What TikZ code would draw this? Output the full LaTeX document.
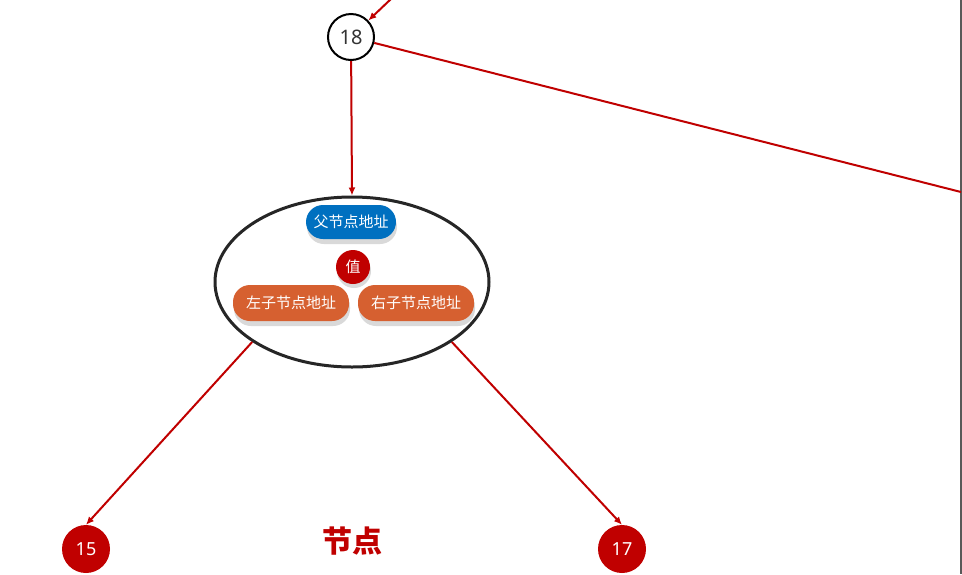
\documentclass[tikz,border=0pt]{standalone}
\usepackage{fontspec}
\setmainfont{Noto Sans}
\newfontfamily\cjk{Noto Sans CJK SC}
\usetikzlibrary{shapes.geometric,shadows,arrows.meta}
\definecolor{arrowred}{RGB}{192,0,0}
\definecolor{pillblue}{RGB}{0,112,192}
\definecolor{pillorange}{RGB}{214,96,48}

\tikzset{
	link/.style={draw=arrowred, line width=2pt, -{Latex[length=8pt,width=7pt]}},
	pill/.style={rounded corners=17pt, text=white, font=\cjk\fontsize{15}{15}\selectfont, inner sep=0pt,
		drop shadow={shadow xshift=1pt, shadow yshift=-5pt, fill=gray!30, opacity=1}},
	leaf/.style={circle, fill=arrowred, text=white, minimum size=48pt, inner sep=0pt, font=\fontsize{18}{18}\selectfont},
}

\begin{document}
\begin{tikzpicture}[x=1pt,y=-1pt]
		\useasboundingbox (0,0) rectangle (962,574);
		\fill[white] (0,0) rectangle (962,574);
		\draw[gray!70!black, line width=1.5pt] (961,0) -- (961,574);

		\node[circle, draw, line width=2pt, minimum size=46pt, inner sep=0pt, font=\fontsize{20}{20}\selectfont, text=black!80] (n18) at (351,37) {18};
		\node[ellipse, draw=black!85, line width=3pt, minimum width=274pt, minimum height=170pt] (node) at (352,282) {};

		\node[pill, fill=pillblue, minimum width=90pt, minimum height=34pt] (parent) at (351,222) {父节点地址};
		\node[circle, fill=arrowred, text=white, minimum size=34pt, inner sep=0pt, font=\cjk\fontsize{15}{15}\selectfont,
			drop shadow={shadow xshift=1pt, shadow yshift=-4pt, fill=gray!30, opacity=1}] (val) at (353,267) {值};
		\node[pill, fill=pillorange, minimum width=116pt, minimum height=36pt] (lchild) at (291,303) {左子节点地址};
		\node[pill, fill=pillorange, minimum width=116pt, minimum height=36pt] (rchild) at (416,303) {右子节点地址};

		\node[leaf] (n15) at (86,549) {15};
		\node[leaf] (n17) at (622,549) {17};
		\node[text=arrowred, font=\cjk\bfseries\fontsize{30}{30}\selectfont] (title) at (352,541) {节点};

		\coordinate (top) at (392,-2);
		\coordinate (east) at (961,192);
		\draw[link] (top) -- (n18);
		\draw[draw=arrowred, line width=2pt] (n18) -- (east);
		\draw[link] (n18) -- (node.north);
		\draw[link] (node.211) -- (n15.north);
		\draw[link] (node.329) -- (n17.north);
		
	\end{tikzpicture}
\end{document}
